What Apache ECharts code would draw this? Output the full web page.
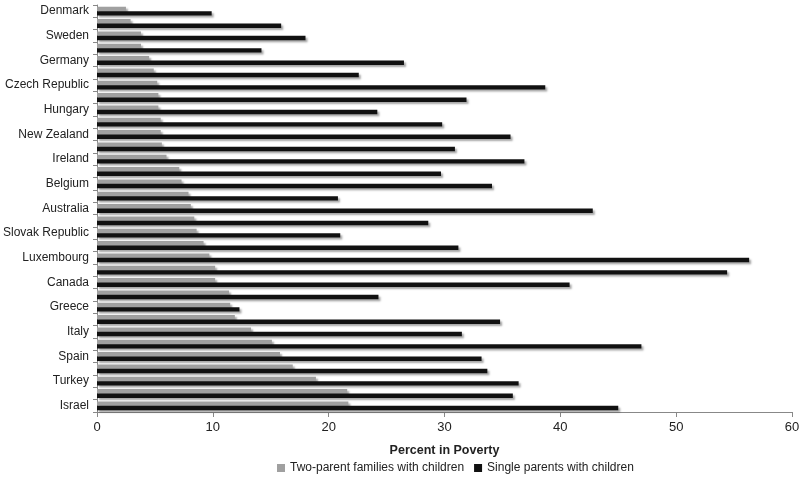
<!DOCTYPE html>
<html><head><meta charset="utf-8">
<script src="https://cdn.jsdelivr.net/npm/echarts@6/dist/echarts.min.js"></script>
<style>html,body{margin:0;padding:0;background:#fff}#c{width:800px;height:483px}</style>
</head><body><div id="c"></div>
<script>
const countries = ["Denmark","Finland","Sweden","Norway","Germany","Iceland","Czech Republic","Netherlands","Hungary","Austria","New Zealand","France","Ireland","Slovenia","Belgium","Korea","Australia","United Kingdom","Slovak Republic","Estonia","Luxembourg","Japan","Canada","Portugal","Greece","Poland","Italy","United States","Spain","Chile","Turkey","Mexico","Israel"];
const twoParent = [2.5,2.9,3.8,3.8,4.5,4.9,5.2,5.3,5.3,5.5,5.5,5.6,6.0,7.1,7.3,7.9,8.1,8.4,8.6,9.2,9.7,10.2,10.2,11.4,11.5,11.9,13.3,15.1,15.8,16.9,18.9,21.6,21.7];
const singleParent = [9.9,15.9,18.0,14.2,26.5,22.6,38.7,31.9,24.2,29.8,35.7,30.9,36.9,29.7,34.1,20.8,42.8,28.6,21.0,31.2,56.3,54.4,40.8,24.3,12.3,34.8,31.5,47.0,33.2,33.7,36.4,35.9,45.0];
const xTicks = [0,10,20,30,40,50,60];
const seriesNames = ["Two-parent families with children","Single parents with children"];

const font = "'Liberation Sans', Arial, sans-serif";
const chart = echarts.init(document.getElementById('c'), null, {renderer:'canvas'});
const shadow = {shadowColor:'rgba(0,0,0,0.35)', shadowBlur:2, shadowOffsetX:2, shadowOffsetY:2};
chart.setOption({
  animation:false,
  textStyle:{fontFamily:font},
  grid:{left:97, right:8, top:5, bottom:71, containLabel:false, outerBoundsMode:'none'},
  legend:{
    data:seriesNames, bottom:4, left:272, itemWidth:8, itemHeight:8, itemGap:10,
    icon:'rect', textStyle:{fontSize:12, color:'#222', fontFamily:font}
  },
  xAxis:{
    type:'value', min:xTicks[0], max:xTicks[xTicks.length-1], interval:10,
    name:'Percent in Poverty', nameLocation:'middle', nameGap:32,
    nameTextStyle:{fontSize:12.5, fontWeight:'bold', color:'#222', fontFamily:font},
    axisLine:{show:true, lineStyle:{color:'#888'}},
    axisTick:{show:true, length:5, lineStyle:{color:'#888'}},
    axisLabel:{fontSize:13, color:'#222', margin:9},
    splitLine:{show:false}
  },
  yAxis:{
    type:'category', data:countries, inverse:true,
    axisLine:{show:true, lineStyle:{color:'#888'}},
    axisTick:{show:true, interval:0, length:4, lineStyle:{color:'#888'}},
    axisLabel:{interval:1, fontSize:12, color:'#222', margin:8},
    splitLine:{show:false}
  },
  series:[
    {name:seriesNames[0], type:'bar', data:twoParent, barGap:'0%', barCategoryGap:'28%',
     itemStyle:Object.assign({color:'#a0a0a0'}, shadow)},
    {name:seriesNames[1], type:'bar', data:singleParent, barGap:'0%', barCategoryGap:'28%',
     itemStyle:Object.assign({color:'#111111'}, shadow)}
  ]
});
</script></body></html>
